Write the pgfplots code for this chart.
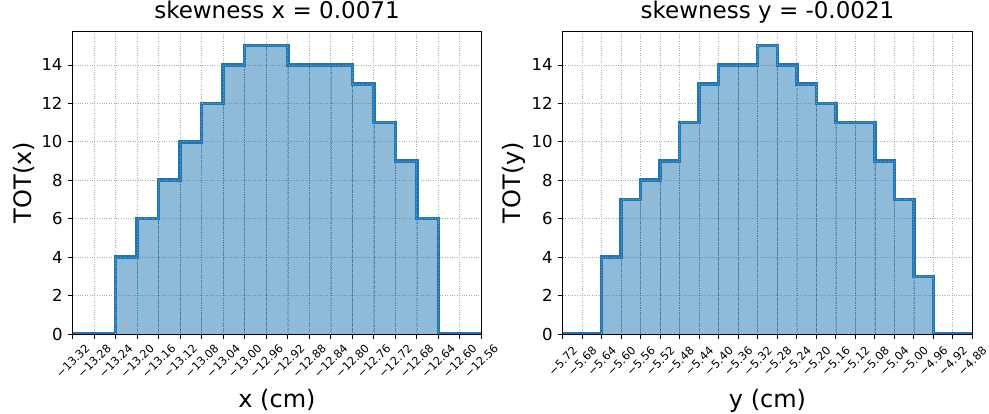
\documentclass[border=0pt]{standalone}
\usepackage{fontspec}
\setmainfont{DejaVu Sans}
\usepackage{pgfplots}
\pgfplotsset{compat=1.18}
\usepackage{pgfplotstable}
\definecolor{c1}{HTML}{1F77B4}
\definecolor{gridc}{HTML}{B0B0B0}

\pgfplotstableread{
x y
-13.32 0
-13.28 0
-13.24 4
-13.20 6
-13.16 8
-13.12 10
-13.08 12
-13.04 14
-13.00 15
-12.96 15
-12.92 14
-12.88 14
-12.84 14
-12.80 13
-12.76 11
-12.72 9
-12.68 6
-12.64 0
-12.60 0
-12.56 0
}\datax

\pgfplotstableread{
x y
-5.72 0
-5.68 0
-5.64 4
-5.60 7
-5.56 8
-5.52 9
-5.48 11
-5.44 13
-5.40 14
-5.36 14
-5.32 15
-5.28 14
-5.24 13
-5.20 12
-5.16 11
-5.12 11
-5.08 9
-5.04 7
-5.00 3
-4.96 0
-4.92 0
-4.88 0
}\datay

\pgfplotsset{histstyle/.style={
  scale only axis, height=302.7pt,
  ymin=0, ymax=15.75,
  ytick={0,2,4,6,8,10,12,14},
  tick pos=left,
  tick align=outside,
  major tick length=5pt,
  every tick/.style={black, line width=0.8pt},
  axis line style={black, line width=0.9pt},
  grid=major,
  major grid style={gridc, dotted, line width=0.7pt},
  /pgf/number format/assume math mode=true,
  yticklabel style={font=\fontsize{16.5}{18}\selectfont, inner sep=0pt},
  yticklabel shift=5pt,
  xticklabel style={font=\fontsize{11.3}{13}\selectfont, rotate=45, anchor=center, inner sep=0pt},
  xticklabel shift=22pt,
  title style={font=\fontsize{23}{27}\selectfont, at={(axis description cs:0.5,1.0231)}, anchor=base},
  xlabel style={font=\fontsize{24}{28}\selectfont, at={(axis description cs:0.5,-0.2412)}, anchor=base},
  ylabel style={font=\fontsize{24}{28}\selectfont, at={(axis description cs:-0.102,0.5)}, anchor=base},
}}

\begin{document}
\begin{tikzpicture}
\useasboundingbox (0,0) rectangle (989pt,414pt);
\begin{axis}[histstyle, at={(72.7pt,80pt)}, anchor=south west, width=408.6pt,
  xmin=-13.32, xmax=-12.56,
  xtick={-13.32,-13.28,-13.24,-13.20,-13.16,-13.12,-13.08,-13.04,-13.00,-12.96,-12.92,-12.88,-12.84,-12.80,-12.76,-12.72,-12.68,-12.64,-12.60,-12.56},
  xticklabels={−13.32,−13.28,−13.24,−13.20,−13.16,−13.12,−13.08,−13.04,−13.00,−12.96,−12.92,−12.88,−12.84,−12.80,−12.76,−12.72,−12.68,−12.64,−12.60,−12.56},
  title={skewness x = 0.0071}, xlabel={x (cm)}, ylabel={TOT(x)}]
\addplot[ybar interval, fill=c1, fill opacity=0.5, draw=c1!70!black, draw opacity=0.5, line width=0.5pt, dotted] table[x=x,y=y] {\datax};
\addplot[const plot, c1, line width=3.5pt, line join=miter] table[x=x,y=y] {\datax};
\addplot[const plot, white, opacity=0.3, line width=0.7pt, dotted] table[x=x,y=y] {\datax};
\end{axis}
\begin{axis}[histstyle, at={(562.7pt,80pt)}, anchor=south west, width=409.6pt,
  xmin=-5.72, xmax=-4.88,
  xtick={-5.72,-5.68,-5.64,-5.60,-5.56,-5.52,-5.48,-5.44,-5.40,-5.36,-5.32,-5.28,-5.24,-5.20,-5.16,-5.12,-5.08,-5.04,-5.00,-4.96,-4.92,-4.88},
  xticklabels={−5.72,−5.68,−5.64,−5.60,−5.56,−5.52,−5.48,−5.44,−5.40,−5.36,−5.32,−5.28,−5.24,−5.20,−5.16,−5.12,−5.08,−5.04,−5.00,−4.96,−4.92,−4.88},
  title={skewness y = -0.0021}, xlabel={y (cm)}, ylabel={TOT(y)}]
\addplot[ybar interval, fill=c1, fill opacity=0.5, draw=c1!70!black, draw opacity=0.5, line width=0.5pt, dotted] table[x=x,y=y] {\datay};
\addplot[const plot, c1, line width=3.5pt, line join=miter] table[x=x,y=y] {\datay};
\addplot[const plot, white, opacity=0.3, line width=0.7pt, dotted] table[x=x,y=y] {\datay};
\end{axis}
\end{tikzpicture}
\end{document}
